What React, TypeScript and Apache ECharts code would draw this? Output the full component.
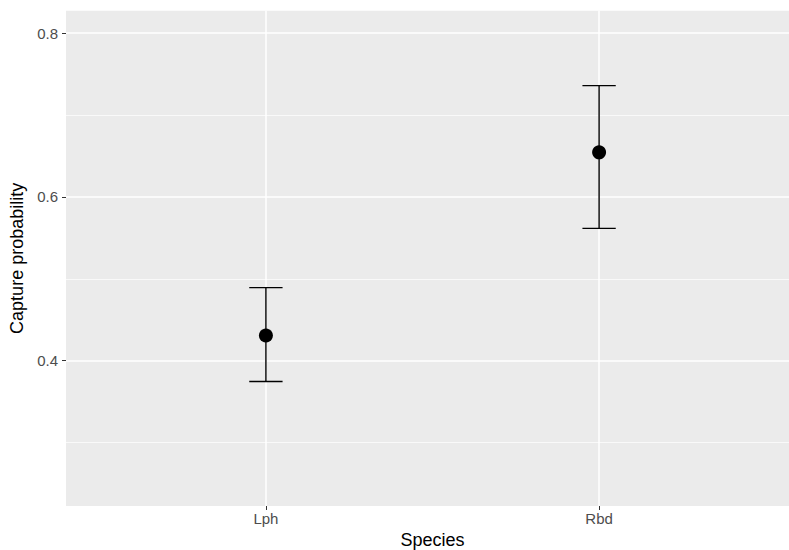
import React, { useEffect, useRef } from "react";
import * as echarts from "echarts";

const species = ["Lph", "Rbd"];
const estimate = [0.4307, 0.6545];
const lower = [0.3745, 0.5616];
const upper = [0.4893, 0.736];
const yMajorTicks = [0.4, 0.6, 0.8];
const yMinorTicks = [0.3, 0.5, 0.7];
const xPositions = [1, 2];

export default function App() {
  const ref = useRef<HTMLDivElement>(null);
  useEffect(() => {
    if (!ref.current) return;
    const chart = echarts.init(ref.current, null, { renderer: "svg" });
    const font = "'Liberation Sans', Arial, sans-serif";
    const gridLines: any[] = [
      ...yMinorTicks.map((v) => ({ yAxis: v, lineStyle: { width: 0.7, color: "#ffffff", type: "solid" } })),
      ...yMajorTicks.map((v) => ({ yAxis: v, lineStyle: { width: 1.5, color: "#ffffff", type: "solid" } })),
      ...xPositions.map((v) => ({ xAxis: v, lineStyle: { width: 1.5, color: "#ffffff", type: "solid" } })),
    ];
    chart.setOption({
      animation: false,
      grid: {
        left: 66,
        top: 10.7,
        width: 733,
        height: 495.3,
        show: true,
        backgroundColor: "#EBEBEB",
        borderWidth: 0,
        containLabel: false,
        outerBoundsMode: "none",
      },
      xAxis: {
        type: "value",
        min: 0.4,
        max: 2.6,
        name: "Species",
        nameLocation: "middle",
        nameGap: 21,
        nameTextStyle: { fontFamily: font, fontSize: 18, color: "#000000" },
        axisLine: { show: false },
        splitLine: { show: false },
        axisTick: {
          show: true,
          length: 4,
          lineStyle: { color: "#333333", width: 1 },
          customValues: xPositions,
        },
        axisLabel: {
          show: true,
          customValues: xPositions,
          margin: 5,
          fontFamily: font,
          fontSize: 15,
          color: "#4D4D4D",
          formatter: (v: number) => species[Math.round(v) - 1] ?? "",
        },
      },
      yAxis: {
        type: "value",
        min: 0.2225,
        max: 0.8275,
        name: "Capture probability",
        nameLocation: "middle",
        nameGap: 35,
        nameTextStyle: { fontFamily: font, fontSize: 18, color: "#000000" },
        axisLine: { show: false },
        splitLine: { show: false },
        axisTick: {
          show: true,
          length: 4,
          lineStyle: { color: "#333333", width: 1 },
          customValues: yMajorTicks,
        },
        axisLabel: {
          show: true,
          customValues: yMajorTicks,
          margin: 8,
          fontFamily: font,
          fontSize: 15,
          color: "#4D4D4D",
          formatter: (v: number) => v.toFixed(1),
        },
      },
      series: [
        {
          type: "line",
          data: [],
          silent: true,
          z: 1,
          markLine: {
            silent: true,
            symbol: ["none", "none"],
            label: { show: false },
            z: 1,
            data: gridLines,
          },
        },
        {
          type: "custom",
          z: 3,
          data: xPositions.map((x, i) => [x, lower[i], upper[i]]),
          renderItem: (params: any, api: any) => {
            const x = api.value(0);
            const lo = api.value(1);
            const hi = api.value(2);
            const pLo = api.coord([x, lo]);
            const pHi = api.coord([x, hi]);
            const capL = api.coord([x - 0.05, lo]);
            const capR = api.coord([x + 0.05, lo]);
            const style = { stroke: "#000000", lineWidth: 1.4 };
            return {
              type: "group",
              children: [
                { type: "line", shape: { x1: pLo[0], y1: pLo[1], x2: pHi[0], y2: pHi[1] }, style },
                { type: "line", shape: { x1: capL[0], y1: pLo[1], x2: capR[0], y2: pLo[1] }, style },
                { type: "line", shape: { x1: capL[0], y1: pHi[1], x2: capR[0], y2: pHi[1] }, style },
              ],
            };
          },
        },
        {
          type: "scatter",
          z: 4,
          symbol: "circle",
          symbolSize: 14,
          itemStyle: { color: "#000000", opacity: 1 },
          data: xPositions.map((x, i) => [x, estimate[i]]),
        },
      ],
    });
    return () => chart.dispose();
  }, []);
  return <div ref={ref} style={{ width: 789, height: 550, position: "absolute", left: 0, top: 0 }} />;
}
